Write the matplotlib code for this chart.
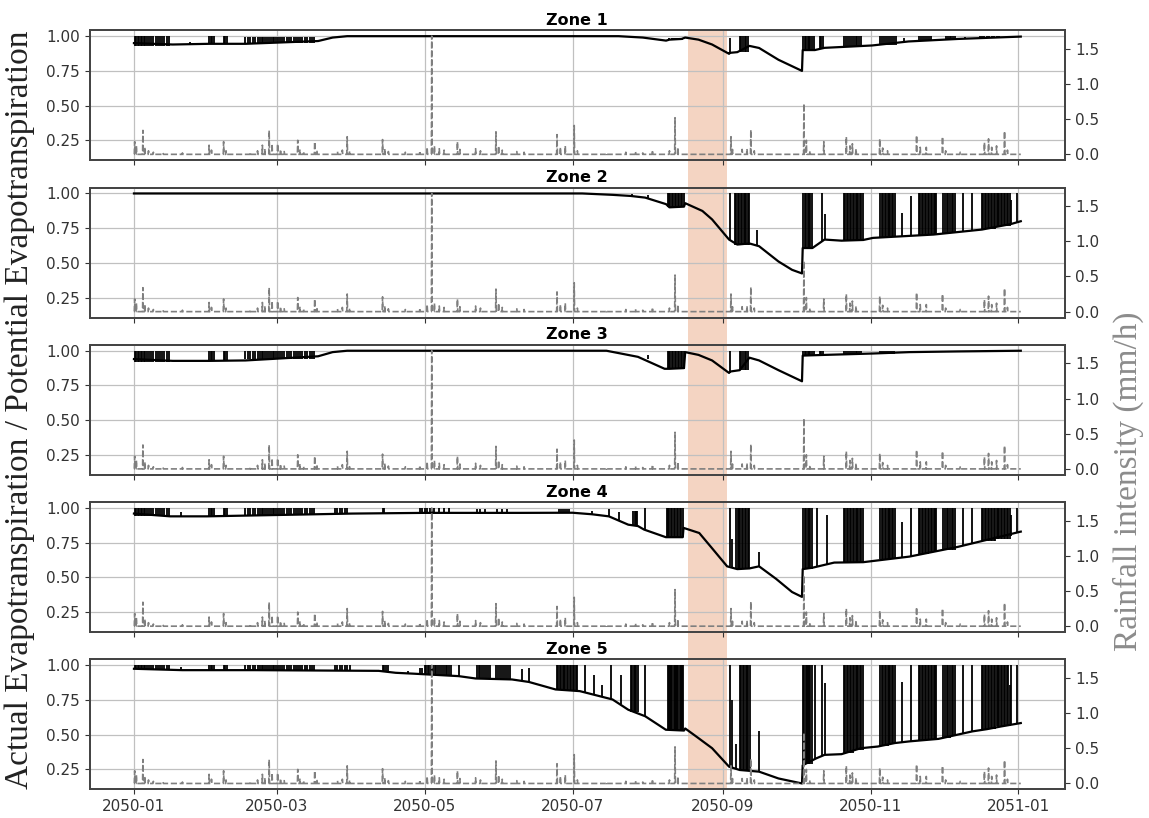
import matplotlib.pyplot as plt
import matplotlib.dates as mdates
import matplotlib.ticker as mticker
from matplotlib.patches import Rectangle
from matplotlib.transforms import blended_transform_factory
import numpy as np
import pandas as pd

start = pd.Timestamp("2050-01-01")

# Hourly rainfall events: (day of year, intensity in mm/h)
rain_events = [
    (0.3, 0.18), (1.0, 0.12), (3.7, 0.34), (4.5, 0.10), (6, 0.05), (8, 0.03), (12, 0.02),
    (20, 0.02), (31, 0.13), (32, 0.06), (37, 0.18), (38, 0.05), (48, 0.03), (51, 0.05),
    (53, 0.13), (54, 0.08), (55.8, 0.34), (57, 0.15), (59.3, 0.15), (60.5, 0.07), (62, 0.04),
    (67.6, 0.20), (68.5, 0.07), (70, 0.04), (74.6, 0.18), (75.5, 0.06), (84, 0.04), (86, 0.06),
    (88, 0.25), (89, 0.05), (102.6, 0.21), (103.5, 0.08), (105, 0.04), (112, 0.03), (118, 0.05),
    (121, 0.10), (122.9, 1.68), (124, 0.12), (126, 0.08), (128, 0.06), (133.5, 0.18),
    (134.5, 0.07), (141, 0.08), (143, 0.05), (149.4, 0.32), (150.5, 0.12), (152, 0.06),
    (158, 0.04), (161, 0.03), (174.6, 0.28), (176, 0.10), (178, 0.12), (181.7, 0.41),
    (183, 0.05), (195, 0.02), (203, 0.03), (207, 0.04), (210, 0.02), (214, 0.06), (221, 0.05),
    (223.3, 0.52), (224.5, 0.10), (246.4, 0.25), (247, 0.07), (251, 0.07), (253, 0.08),
    (254.6, 0.35), (256, 0.05), (276.5, 0.72), (277.5, 0.20), (279, 0.05), (284.7, 0.18),
    (294, 0.25), (295.5, 0.12), (296.5, 0.15), (298, 0.08), (307.8, 0.22), (309, 0.09),
    (311, 0.05), (323, 0.27), (324.5, 0.10), (327, 0.10), (333.7, 0.25), (335, 0.05),
    (341, 0.03), (351, 0.17), (352.7, 0.22), (354, 0.10), (356, 0.12), (359.3, 0.33),
    (360.5, 0.06),
]

# AET/PET recession curves: (day of year, ratio)
zone1_base = [
    (0, 0.95), (16, 0.94), (31, 0.945), (46, 0.945), (76, 0.965), (82, 0.99), (88, 1.0),
    (200, 1.0), (210, 0.99), (219.6, 0.968), (221, 0.975), (226, 0.98), (227.5, 0.99),
    (233, 0.975), (238.6, 0.94), (245.6, 0.873), (246, 0.88), (249, 0.885), (254, 0.93),
    (258, 0.915), (266, 0.83), (275.7, 0.75), (276, 0.9), (281, 0.9), (285, 0.916),
    (304.6, 0.933), (319.7, 0.962), (340, 0.98), (366, 0.997),
]
zone2_base = [
    (0, 1.0), (185, 1.0), (197.5, 0.99), (205, 0.982), (211, 0.97), (219.6, 0.923),
    (221, 0.9), (227, 0.905), (227.5, 0.93), (229, 0.918), (234.6, 0.874), (238.6, 0.813),
    (245.6, 0.668), (249, 0.632), (254, 0.64), (258, 0.62), (266, 0.51), (271.6, 0.45),
    (275.7, 0.424), (276, 0.607), (280, 0.607), (285, 0.668), (292, 0.66), (301, 0.665),
    (305, 0.68), (330, 0.704), (350, 0.74), (362, 0.78), (366, 0.8),
]
zone3_base = [
    (0, 0.94), (16, 0.927), (31, 0.927), (46, 0.93), (76, 0.96), (82, 0.99), (88, 1.0),
    (195, 1.0), (208, 0.956), (219, 0.87), (221, 0.87), (227, 0.875), (227.5, 0.99),
    (233, 0.97), (238.6, 0.93), (245.6, 0.84), (246, 0.85), (250, 0.86), (254, 0.95),
    (258, 0.93), (266, 0.86), (275.7, 0.78), (276, 0.965), (285, 0.97), (305, 0.98),
    (320, 0.99), (340, 0.995), (366, 1.0),
]
zone4_base = [
    (0, 0.96), (15, 0.94), (30, 0.94), (60, 0.95), (90, 0.96), (120, 0.965), (160, 0.965),
    (181, 0.966), (189, 0.955), (196, 0.94), (204, 0.88), (208, 0.87), (210.5, 0.845),
    (219.5, 0.79), (226.5, 0.79), (226.8, 0.857), (233.3, 0.82), (238.6, 0.71),
    (244.8, 0.58), (249, 0.56), (254, 0.565), (258, 0.58), (265, 0.49), (271.6, 0.395),
    (275.7, 0.36), (276, 0.56), (280, 0.57), (289, 0.607), (301, 0.61), (320, 0.65),
    (340, 0.72), (366, 0.83),
]
zone5_base = [
    (0, 0.975), (20, 0.965), (50, 0.965), (80, 0.962), (101, 0.96), (108, 0.946),
    (115, 0.94), (134, 0.922), (141, 0.905), (156, 0.898), (163, 0.88), (174, 0.826),
    (184, 0.814), (197.5, 0.754), (204, 0.68), (211, 0.633), (219.5, 0.536), (227, 0.53),
    (227.5, 0.545), (232, 0.488), (238.6, 0.403), (245.6, 0.27), (250, 0.246),
    (258, 0.234), (266, 0.185), (275.7, 0.149), (276, 0.28), (281.6, 0.33), (285, 0.355),
    (292, 0.36), (300, 0.403), (307, 0.415), (314, 0.44), (320, 0.452), (332, 0.47),
    (346, 0.524), (352, 0.54), (358, 0.56), (366, 0.584),
]

# Rain-driven bursts in the ratio: (days of the jumps, ratio before, ratio reached)
winter_days = [0.3, 0.9, 1.5, 2.1, 2.8, 3.4, 4.0, 4.7, 5.5, 6.2, 7.0, 8.0, 9.0, 9.8,
               10.6, 11.5, 12.5, 13.5, 14.5]
spring_days = [46, 47, 48, 49, 50, 51, 52, 52.7, 53.4, 54, 55, 55.7, 56.4, 57.2, 58,
               58.7, 59.4, 60.2, 61, 62, 63, 64, 65, 66, 67, 67.8, 68.6, 69.5, 70.5,
               71.5, 72.5, 73.5, 74.5]

zone1_bursts = [
    (winter_days, 0.93, 1.0), ([23], 0.94, 0.96), ([31, 31.6, 32.2, 33], 0.945, 1.0),
    ([37, 37.6, 38.2], 0.945, 1.0), (spring_days, 0.952, 0.995),
    ([221, 222, 222.8, 223.6, 224.4, 225.2, 226], 0.97, 0.99), ([246], 0.875, 0.99),
    ([250, 250.7, 251.4, 252.1, 252.8, 253.5], 0.885, 1.0),
    ([276.2, 276.8, 277.4, 278, 278.6, 279.2, 279.8, 280.5], 0.9, 1.0),
    ([283, 283.7, 284.4], 0.91, 1.0),
    ([293, 293.8, 294.6, 295.4, 296.2, 297, 297.8, 298.6, 299.4, 300.2], 0.925, 1.0),
    ([308, 308.8, 309.6, 310.4, 311.2, 312, 312.8, 313.6, 314.4], 0.94, 1.0),
    ([318], 0.96, 0.99), ([324, 324.8, 325.6, 326.4, 327.2, 328, 328.8], 0.965, 1.0),
    ([335, 335.8, 336.6, 337.4, 338.2, 339], 0.975, 1.0), ([343], 0.98, 0.995),
    ([349, 350, 351, 352, 353, 354, 355, 356, 357], 0.985, 1.0),
]
zone2_bursts = [
    ([205.5], 0.982, 0.995), ([212], 0.965, 0.99),
    ([220.2, 220.8, 221.4, 222, 222.6, 223.2, 223.8, 224.4, 225, 225.6, 226.2, 226.8], 0.9, 1.0),
    ([246], 0.668, 1.0),
    ([248, 248.6, 249.2, 249.8, 250.4, 251, 251.6, 252.2, 252.8, 253.4, 254], 0.632, 1.0),
    ([257], 0.62, 0.74),
    ([276.2, 276.8, 277.4, 278, 278.6, 279.2, 279.8], 0.607, 1.0),
    ([284], 0.66, 1.0), ([285], 0.668, 0.85),
    ([293, 293.6, 294.2, 294.8, 295.4, 296, 296.6, 297.2, 297.8, 298.4, 299, 299.6, 300.2,
      300.8], 0.662, 1.0),
    ([308, 308.6, 309.2, 309.8, 310.4, 311, 311.6, 312.2, 312.8, 313.4, 314], 0.684, 1.0),
    ([317], 0.69, 0.86), ([320.5], 0.694, 0.98),
    ([324, 324.6, 325.2, 325.8, 326.4, 327, 327.6, 328.2, 328.8, 329.4, 330, 330.6,
      331.2], 0.70, 1.0),
    ([334, 334.7, 335.4, 336.1, 336.8, 337.5, 338.2, 338.9], 0.712, 1.0),
    ([342], 0.725, 1.0), ([346], 0.733, 1.0),
    ([350, 350.6, 351.2, 351.8, 352.4, 353, 353.6, 354.2, 354.8, 355.4], 0.745, 1.0),
    ([356, 356.6, 357.2, 357.8, 358.4, 359, 359.6, 360.2, 360.8, 361.4], 0.765, 1.0),
    ([362], 0.78, 0.95), ([364.6], 0.79, 1.0),
]
zone3_bursts = [
    (winter_days, 0.92, 1.0), ([31, 31.6, 32.2, 33], 0.927, 1.0),
    ([37, 37.6, 38.2], 0.927, 1.0), (spring_days, 0.94, 1.0), ([212], 0.94, 0.97),
    ([220.2, 220.8, 221.4, 222, 222.6, 223.2, 223.8, 224.4, 225, 225.6, 226.2, 226.8], 0.87, 1.0),
    ([246], 0.84, 1.0), ([250, 250.7, 251.4, 252.1, 252.8, 253.5], 0.86, 1.0),
    ([276.2, 276.8, 277.4, 278, 278.6, 279.2, 279.8, 280.5], 0.965, 1.0),
    ([283, 283.7, 284.4], 0.97, 1.0),
    ([293, 293.8, 294.6, 295.4, 296.2, 297, 297.8, 298.6, 299.4, 300.2], 0.975, 1.0),
    ([308, 308.8, 309.6, 310.4, 311.2, 312, 312.8, 313.6], 0.98, 1.0),
    ([324, 325, 326, 327, 328], 0.99, 1.0), ([335, 336, 337], 0.993, 1.0),
    ([350, 351.5, 353], 0.995, 1.0),
]
zone4_bursts = [
    (winter_days, 0.94, 1.0), ([19.5], 0.94, 0.97), ([31, 31.6, 32.2, 33], 0.94, 1.0),
    ([37, 37.6, 38.2], 0.94, 1.0), (spring_days, 0.948, 1.0),
    ([83, 84, 85, 86, 87, 88], 0.96, 1.0), ([102.6, 103.3], 0.962, 1.0),
    ([118, 119, 120, 121, 122, 123, 124, 126, 128, 130], 0.965, 1.0),
    ([141.5, 143, 145, 150, 152, 154], 0.965, 0.99),
    ([175.5, 176.2, 177, 177.8, 178.6, 179.4], 0.966, 0.99),
    ([189], 0.955, 0.98), ([196], 0.94, 0.995), ([200], 0.915, 0.97),
    ([206, 206.6, 207.2, 207.8], 0.872, 0.98), ([211], 0.845, 1.0),
    ([219.8, 220.4, 221, 221.6, 222.2, 222.8, 223.4, 224, 224.6, 225.2, 225.8, 226.4], 0.79, 1.0),
    ([246], 0.58, 1.0), ([247], 0.57, 0.78),
    ([248.5, 249.1, 249.7, 250.3, 250.9, 251.5, 252.1, 252.7, 253.3, 253.9], 0.56, 1.0),
    ([258], 0.58, 0.68),
    ([276.2, 276.8, 277.4, 278, 278.6, 279.2, 279.8], 0.562, 1.0),
    ([282], 0.58, 1.0), ([286], 0.6, 0.95),
    ([293, 293.6, 294.2, 294.8, 295.4, 296, 296.6, 297.2, 297.8, 298.4, 299, 299.6, 300.2,
      300.8], 0.608, 1.0),
    ([308, 308.6, 309.2, 309.8, 310.4, 311, 311.6, 312.2, 312.8, 313.4, 314], 0.63, 1.0),
    ([317], 0.643, 0.9), ([320.5], 0.65, 1.0),
    ([324, 324.6, 325.2, 325.8, 326.4, 327, 327.6], 0.667, 1.0),
    ([328.2, 328.8, 329.4, 330, 330.6, 331.2], 0.682, 1.0),
    ([334, 334.7, 335.4, 336.1, 336.8, 337.5, 338.2, 338.9], 0.7, 1.0),
    ([342], 0.725, 1.0), ([346], 0.74, 1.0),
    ([350, 350.6, 351.2, 351.8, 352.4, 353, 353.6, 354.2, 354.8, 355.4], 0.76, 1.0),
    ([356, 356.6, 357.2, 357.8, 358.4, 359, 359.6, 360.2, 360.8, 361.4], 0.78, 1.0),
    ([362], 0.8, 0.95), ([364.6], 0.82, 1.0),
]
zone5_bursts = [
    (winter_days, 0.972, 1.0), ([19.5], 0.965, 0.985), ([31, 31.6, 32.2, 33], 0.965, 1.0),
    ([37, 37.6, 38.2], 0.965, 1.0), (spring_days, 0.964, 1.0),
    ([83, 84, 85, 86, 87, 88, 89], 0.962, 1.0), ([102.6, 103.3, 104, 105], 0.958, 1.0),
    ([113], 0.942, 0.96), ([118, 118.8], 0.94, 0.98),
    ([120, 120.6, 121.2, 121.8, 122.4, 123, 123.6, 124.2, 124.8, 125.5, 126.2, 127, 127.8,
      128.6, 129.4, 130.2, 131], 0.932, 1.0),
    ([134], 0.922, 1.0),
    ([141.5, 142.2, 143, 143.8, 144.6, 145.4, 146.2, 147], 0.904, 1.0),
    ([149.5, 150.2, 151, 151.8, 152.6, 153.4, 154.2, 155], 0.9, 1.0),
    ([160], 0.89, 0.97), ([163], 0.88, 0.98),
    ([174.5, 175.1, 175.7, 176.3, 176.9, 177.5, 178.1, 178.7, 179.3, 179.9, 180.5, 181.1,
      181.7, 182.3, 183], 0.82, 1.0),
    ([186], 0.805, 1.0), ([190], 0.79, 0.93), ([193], 0.772, 0.86), ([197], 0.756, 1.0),
    ([201], 0.72, 0.93), ([205, 205.6, 206.2, 206.8, 207.4, 208], 0.665, 1.0),
    ([211], 0.633, 1.0),
    ([220.2, 220.7, 221.2, 221.7, 222.2, 222.7, 223.2, 223.7, 224.2, 224.7, 225.2, 225.7,
      226.2, 226.7], 0.533, 1.0),
    ([246], 0.265, 1.0), ([247], 0.26, 0.75), ([248.5], 0.255, 0.43),
    ([250, 250.6, 251.2, 251.8, 252.4, 253, 253.6, 254.2], 0.245, 1.0),
    ([258], 0.234, 0.53),
    ([276.2, 276.7, 277.2, 277.7, 278.2, 278.7, 279.2, 279.7], 0.29, 1.0),
    ([281], 0.325, 1.0), ([284], 0.35, 1.0), ([285], 0.355, 0.87),
    ([293, 293.6, 294.2, 294.8, 295.4, 296, 296.6], 0.37, 1.0),
    ([297.2, 297.8, 298.4, 299, 299.6, 300.2, 300.8], 0.39, 1.0),
    ([308, 308.6, 309.2, 309.8, 310.4, 311], 0.42, 1.0),
    ([311.6, 312.2, 312.8, 313.4, 314], 0.435, 1.0),
    ([317], 0.446, 0.88), ([320.5], 0.452, 1.0),
    ([324, 324.6, 325.2, 325.8, 326.4, 327, 327.6], 0.459, 1.0),
    ([328.2, 328.8, 329.4, 330, 330.6, 331.2], 0.466, 1.0),
    ([334, 334.7, 335.4, 336.1, 336.8], 0.478, 1.0), ([337.5, 338.2, 338.9], 0.49, 1.0),
    ([342], 0.51, 1.0), ([346], 0.524, 1.0),
    ([350, 350.6, 351.2, 351.8, 352.4, 353, 353.6, 354.2, 354.8, 355.4], 0.54, 1.0),
    ([356, 356.6, 357.2, 357.8, 358.4, 359, 359.6, 360.2, 360.8], 0.56, 1.0),
    ([361.4], 0.565, 0.86), ([362], 0.57, 1.0), ([364.6], 0.58, 1.0),
]

zone_names = ["Zone 1", "Zone 2", "Zone 3", "Zone 4", "Zone 5"]
zone_bases = [zone1_base, zone2_base, zone3_base, zone4_base, zone5_base]
zone_bursts = [zone1_bursts, zone2_bursts, zone3_bursts, zone4_bursts, zone5_bursts]

# dry spell highlighted across all panels
dry_spell = (228.7, 244.7)


def to_dates(days):
    return start + pd.to_timedelta(np.asarray(days, dtype=float), unit="D")


# rainfall polyline: drop back to zero between hourly events
rain_x, rain_y = [0.0], [0.0]
for d, v in rain_events:
    rain_x += [d - 0.15, d, d + 0.15]
    rain_y += [0.0, v, 0.0]
rain_x.append(366.0)
rain_y.append(0.0)
rain_dates = to_dates(rain_x)

fig, axes = plt.subplots(5, 1, figsize=(11.49, 8.18), dpi=100, sharex=True, sharey=True)
fig.subplots_adjust(left=0.078, right=0.927, bottom=0.035, top=0.963, hspace=0.21)

twins = []
for ax, name, base, bursts in zip(axes, zone_names, zone_bases, zone_bursts):
    ax.set_facecolor("none")
    bd, bv = zip(*base)
    ax.plot(to_dates(bd), bv, color="black", lw=1.6, zorder=3)
    for days, lo, hi in bursts:
        ax.vlines(to_dates(days), lo, hi, colors="black", lw=1.3, zorder=3)

    ax.set_title(name, fontsize=11.5, fontweight="bold", pad=4)
    ax.grid(True, color="#c0c0c0", lw=0.9)
    ax.yaxis.set_major_locator(mticker.MultipleLocator(0.25))
    ax.tick_params(labelsize=11, colors="#333333", labelcolor="#333333")
    for sp in ax.spines.values():
        sp.set_color("#444444")
        sp.set_linewidth(1.3)

    tw = ax.twinx()
    tw.plot(rain_dates, rain_y, color="#7f7f7f", lw=1.2, ls="--", zorder=2)
    tw.yaxis.set_major_locator(mticker.MultipleLocator(0.5))
    tw.yaxis.set_major_formatter(mticker.FormatStrFormatter("%.1f"))
    tw.tick_params(labelsize=11, colors="#333333", labelcolor="#333333")
    for sp in tw.spines.values():
        sp.set_color("#444444")
        sp.set_linewidth(1.3)
    twins.append(tw)

for tw in twins[1:]:
    tw.sharey(twins[0])

axes[-1].xaxis.set_major_locator(mdates.MonthLocator(bymonth=[1, 3, 5, 7, 9, 11]))
axes[-1].xaxis.set_major_formatter(mdates.DateFormatter("%Y-%m"))

# shaded band spanning every panel and the gaps between them
trans = blended_transform_factory(axes[0].transData, fig.transFigure)
x0, x1 = mdates.date2num(to_dates(list(dry_spell)))
fig.add_artist(Rectangle((x0, 0.035), x1 - x0, 0.963 - 0.035, transform=trans,
                         facecolor="#f4d4c2", edgecolor="none", zorder=-1))

fig.text(0.017, 0.499, "Actual Evapotranspiration / Potential Evapotranspiration",
         rotation=90, ha="center", va="center", fontsize=24,
         family="Liberation Serif", color="#222222")
fig.text(0.982, 0.412, "Rainfall intensity (mm/h)", rotation=90, ha="center",
         va="center", fontsize=24, family="Liberation Serif", color="#8c8c8c")

fig.savefig("out.png", dpi=100)
